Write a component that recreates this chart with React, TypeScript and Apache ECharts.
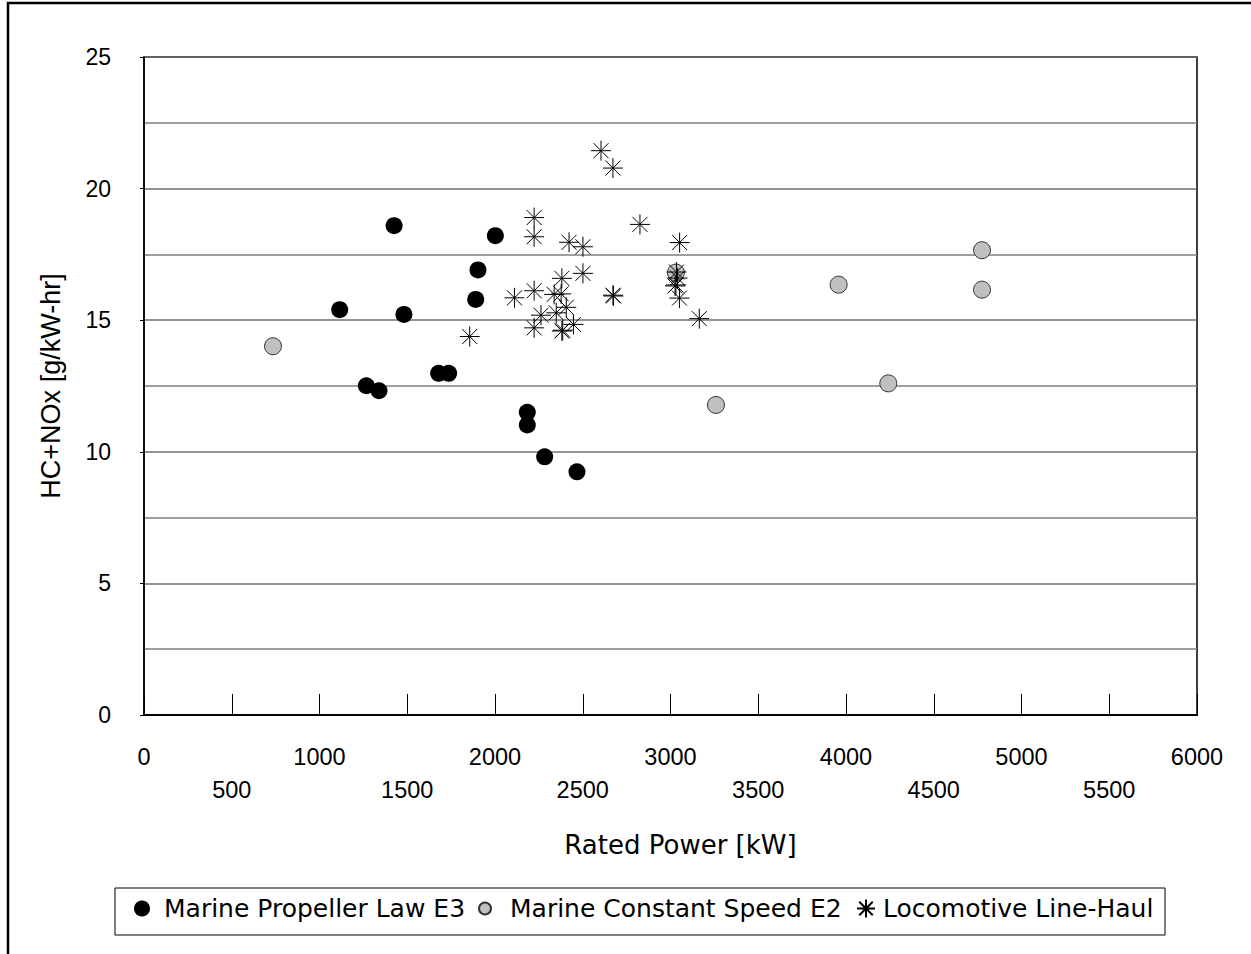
import React, { useEffect, useRef } from "react";
import * as echarts from "echarts";

// Marine Propeller Law E3 — [rated power kW, HC+NOx g/kW-hr]
const propellerLawE3: [number, number][] = [
  [1115, 15.4], [1425, 18.59], [1267, 12.51], [1339, 12.32], [1481, 15.22],
  [1679, 12.98], [1736, 12.98], [1890, 15.79], [1903, 16.91], [2002, 18.21],
  [2184, 11.5], [2184, 11.02], [2283, 9.81], [2467, 9.24],
];

// Marine Constant Speed E2
const constantSpeedE2: [number, number][] = [
  [735, 14.01], [3031, 16.81], [3259, 11.78], [3958, 16.35],
  [4241, 12.6], [4775, 17.66], [4775, 16.16],
];

// Locomotive Line-Haul
const locomotiveLineHaul: [number, number][] = [
  [2604, 21.44], [2672, 20.78], [2223, 18.9], [2223, 18.17], [2826, 18.64],
  [2422, 17.96], [2501, 17.79], [3052, 17.95], [2501, 16.78], [2381, 16.59],
  [2223, 16.12], [2111, 15.85], [2337, 15.98], [2377, 16.0], [2675, 15.92],
  [2672, 15.95], [3034, 16.83], [3031, 16.34], [3026, 16.3], [3040, 16.6],
  [3051, 15.84], [3164, 15.06], [2262, 15.19], [2349, 15.28], [2406, 15.49],
  [2223, 14.71], [2381, 14.59], [2386, 14.62], [2447, 14.84], [1856, 14.38],
];

const seriesNames = [
  "Marine Propeller Law E3",
  "Marine Constant Speed E2",
  "Locomotive Line-Haul",
];

const xMin = 0;
const xMax = 6000;
const xStep = 500;
const yMin = 0;
const yMax = 25;
const yStep = 5;

const starPath =
  "path://M10,0L10,20M0,10L20,10M2.5,2.5L17.5,17.5M2.5,17.5L17.5,2.5";

export default function App() {
  const ref = useRef<HTMLDivElement>(null);

  useEffect(() => {
    document.body.style.margin = "0";
    if (!ref.current) return;
    const chart = echarts.init(ref.current, null, { renderer: "svg" });
    const legendText = {
      fontFamily: "DejaVu Sans",
      fontSize: 25,
      color: "#000",
    };
    chart.setOption({
      animation: false,
      backgroundColor: "#fff",
      grid: {
        left: 144,
        top: 57,
        width: 1053,
        height: 658,
        show: true,
        borderColor: "#000",
        borderWidth: 1.5,
      },
      xAxis: {
        type: "value",
        min: xMin,
        max: xMax,
        interval: xStep,
        name: "Rated Power [kW]",
        nameLocation: "middle",
        nameGap: 117,
        nameTextStyle: {
          fontFamily: "DejaVu Sans",
          fontSize: 26,
          color: "#000",
          padding: [0, 0, 0, 20],
        },
        axisLine: { show: true, onZero: false, lineStyle: { color: "#000", width: 2 } },
        axisTick: { show: true, inside: true, length: 21, lineStyle: { color: "#000", width: 1 } },
        splitLine: { show: false },
        axisLabel: {
          fontFamily: "Liberation Sans",
          fontSize: 23.5,
          color: "#000",
          margin: 25,
          lineHeight: 33,
          formatter: (v: number) => (v % 1000 === 0 ? String(v) : "\n" + v),
        },
      },
      yAxis: {
        type: "value",
        min: yMin,
        max: yMax,
        interval: yStep,
        name: "HC+NOx [g/kW-hr]",
        nameLocation: "middle",
        nameGap: 80,
        nameTextStyle: {
          fontFamily: "Liberation Sans",
          fontSize: 27,
          color: "#000",
        },
        axisLine: { show: true, lineStyle: { color: "#000", width: 1.5 } },
        axisTick: { show: true, length: 4, lineStyle: { color: "#000" } },
        minorTick: { show: false, splitNumber: 2 },
        splitLine: { show: true, lineStyle: { color: "#707070", width: 1.5 } },
        minorSplitLine: { show: true, lineStyle: { color: "#7f7f7f", width: 1.5 } },
        axisLabel: {
          fontFamily: "Liberation Sans",
          fontSize: 23,
          color: "#000",
          margin: 33,
        },
      },
      legend: [
        {
          data: [seriesNames[0]],
          left: 129,
          top: 891,
          itemWidth: 34,
          itemHeight: 16,
          selectedMode: false,
          textStyle: legendText,
        },
        {
          data: [seriesNames[1]],
          left: 473,
          top: 891,
          itemWidth: 40,
          itemHeight: 12,
          selectedMode: false,
          textStyle: legendText,
        },
        {
          data: [seriesNames[2]],
          left: 851,
          top: 891,
          itemWidth: 24,
          itemHeight: 18,
          selectedMode: false,
          textStyle: legendText,
        },
      ],
      graphic: [
        {
          type: "rect",
          shape: { x: 8, y: 3, width: 1400, height: 1100 },
          style: { fill: "none", stroke: "#000", lineWidth: 2.5 },
          silent: true,
        },
        {
          type: "rect",
          shape: { x: 115, y: 888, width: 1050, height: 47 },
          style: { fill: "none", stroke: "#000", lineWidth: 1 },
          silent: true,
        },
      ],
      series: [
        {
          name: seriesNames[0],
          type: "scatter",
          data: propellerLawE3,
          symbol: "circle",
          symbolSize: 17,
          itemStyle: { color: "#000", opacity: 1 },
        },
        {
          name: seriesNames[1],
          type: "scatter",
          data: constantSpeedE2,
          symbol: "circle",
          symbolSize: 17,
          itemStyle: { color: "#c0c0c0", borderColor: "#333", borderWidth: 1, opacity: 1 },
        },
        {
          name: seriesNames[2],
          type: "scatter",
          data: locomotiveLineHaul,
          symbol: starPath,
          symbolSize: 20,
          itemStyle: {
            color: "rgba(0,0,0,0)",
            borderColor: "#000",
            borderWidth: 1,
            opacity: 1,
          },
        },
      ],
    });
    return () => chart.dispose();
  }, []);

  return <div ref={ref} style={{ width: 1251, height: 954 }} />;
}
